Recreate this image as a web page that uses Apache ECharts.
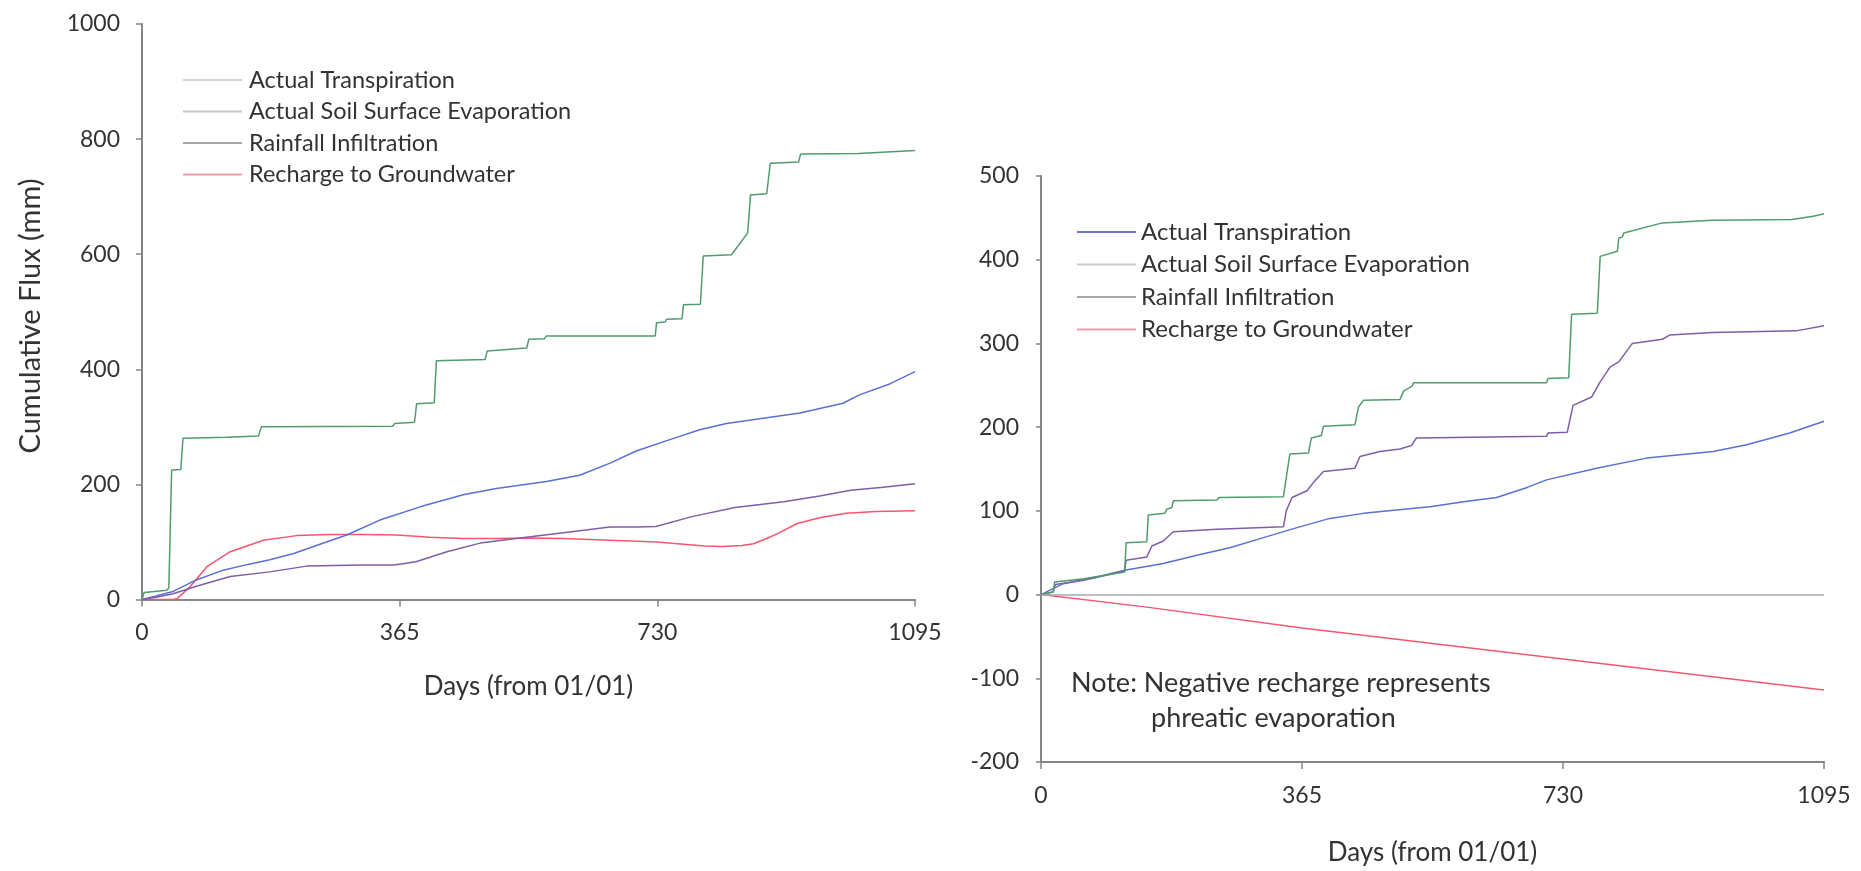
<!DOCTYPE html>
<html>
<head>
<meta charset="utf-8">
<script src="https://cdn.jsdelivr.net/npm/echarts@6/dist/echarts.min.js"></script>
<style>
html,body{margin:0;padding:0;background:#fff;}
#chart{width:1861px;height:871px;}
</style>
</head>
<body>
<div id="chart"></div>
<script>
// ---------- DATA ----------
const seriesNames = ['Actual Transpiration', 'Actual Soil Surface Evaporation', 'Rainfall Infiltration', 'Recharge to Groundwater'];
const xTicks = [0, 365, 730, 1095];
const leftYTicks = [0, 200, 400, 600, 800, 1000];
const rightYTicks = [-200, -100, 0, 100, 200, 300, 400, 500];

// Left panel: [day, cumulative flux mm]
const leftTranspiration = [[0,0],[20,6],[44,14],[77,34],[115,51],[150,61],[181,69],[215,80],[243,92],[290,112],[337,138],[394,161],[455,182],[502,193],[573,205],[620,216],[663,237],[700,258],[753,280],[790,295],[828,306],[880,315],[932,324],[993,341],[1017,356],[1060,375],[1095,396]];
const leftEvaporation = [[0,0],[20,4],[44,10],[77,23],[125,40],[181,48],[233,58],[314,60],[356,60],[370,62],[389,66],[432,83],[479,98],[550,109],[597,116],[663,126],[700,126],[728,127],[779,144],[840,160],[909,170],[960,180],[1004,190],[1050,195],[1095,201]];
const leftInfiltration = [[0,0],[3,12],[35,16],[38,20],[42,225],[55,226],[58,280],[120,282],[165,284],[169,300],[355,301],[358,306],[386,308],[389,340],[414,342],[417,415],[486,417],[489,432],[545,437],[548,452],[570,453],[573,458],[727,458],[729,481],[741,482],[743,487],[765,488],[767,512],[791,513],[795,597],[835,599],[858,637],[862,703],[885,705],[890,758],[930,760],[933,774],[1015,775],[1095,780]];
const leftRecharge = [[0,0],[44,0],[50,2],[68,22],[92,57],[125,83],[172,103],[219,111],[266,113],[314,113],[361,112],[408,108],[455,106],[502,106],[550,107],[597,106],[663,103],[729,100],[797,93],[823,92],[850,94],[866,97],[885,106],[901,115],[928,132],[960,142],[997,150],[1040,153],[1095,154]];

// Right panel: [day, cumulative flux mm]
const rightTranspiration = [[0,0],[31,13],[78,21],[117,29],[171,37],[218,47],[264,56],[311,68],[358,80],[404,91],[451,97],[497,101],[544,105],[591,111],[637,116],[680,128],[707,137],[777,151],[847,163],[940,171],[987,179],[1047,193],[1095,207]];
const rightEvaporation = [[0,0],[17,3],[20,12],[60,17],[117,28],[119,41],[148,45],[155,58],[171,64],[185,75],[246,78],[339,81],[343,100],[351,116],[372,124],[381,134],[395,147],[439,151],[446,165],[474,171],[502,174],[518,178],[525,187],[707,189],[709,193],[736,194],[744,226],[770,236],[782,254],[796,272],[808,278],[827,300],[869,305],[879,310],[939,313],[1056,315],[1095,321]];
const rightInfiltration = [[0,0],[17,3],[19,15],[60,19],[117,27],[119,62],[148,63],[150,95],[173,97],[176,102],[183,104],[185,112],[246,113],[249,116],[339,117],[348,168],[374,169],[378,187],[392,190],[395,201],[439,203],[444,224],[451,232],[502,233],[507,243],[519,249],[521,253],[707,253],[709,258],[738,259],[742,335],[778,336],[782,404],[806,410],[808,426],[813,427],[815,432],[869,444],[939,447],[1050,448],[1080,452],[1095,455]];
const rightRecharge = [[0,0],[148,-15],[365,-40],[730,-77],[1095,-114]];

const yTitle = 'Cumulative Flux (mm)';
const xTitle = 'Days (from 01/01)';
const noteLines = ['Note: Negative recharge represents', 'phreatic evaporation'];

// ---------- STYLE ----------
const FONT = 'Lato, "Open Sans", sans-serif';
const TXT = '#333333';
const AXIS = '#858585';
const colors = ['#5b6fd6', '#7d5fa8', '#4f9c6c', '#f5566e'];

const leftData = [leftTranspiration, leftEvaporation, leftInfiltration, leftRecharge];
const rightData = [rightTranspiration, rightEvaporation, rightInfiltration, rightRecharge];

function mkSeries(dataArr, idx) {
  return dataArr.map((d, i) => ({
    type: 'line', name: seriesNames[i], data: d,
    xAxisIndex: idx, yAxisIndex: idx,
    symbol: 'none', smooth: false,
    lineStyle: { color: colors[i], width: 1.5 },
    itemStyle: { color: colors[i] },
    z: 3 + (i === 3 ? 0 : 1)
  }));
}

const series = mkSeries(leftData, 0).concat(mkSeries(rightData, 1));
series[7].markLine = {
  silent: true, symbol: 'none', label: { show: false },
  lineStyle: { color: '#a8a8a8', width: 1.5, type: 'solid' },
  data: [{ yAxis: 0 }]
};

const leftLegendColors = ['#d4d4d4', '#c8c8c8', '#a4a4a4', '#f49aab'];
const rightLegendColors = ['#7475d0', '#cacaca', '#a8a8a8', '#f59eae'];

function mkLegend(left, top, cols, gap, fs, padL) {
  return {
    orient: 'vertical', left: left, top: top,
    itemWidth: 59, itemHeight: 2, itemGap: gap,
    selectedMode: false, icon: 'rect',
    textStyle: { fontFamily: FONT, fontSize: fs, color: TXT, lineHeight: 22, padding: [0, 0, 0, padL] },
    data: seriesNames.map((n, i) => ({
      name: n,
      itemStyle: { color: cols[i] }
    }))
  };
}

function xAxis(idx, gap) {
  return {
    type: 'value', gridIndex: idx, min: 0, max: 1095, interval: 365,
    name: xTitle, nameLocation: 'middle', nameGap: gap,
    nameTextStyle: { fontFamily: FONT, fontSize: 26, color: TXT },
    axisLine: { onZero: false, lineStyle: { color: AXIS, width: 2 } },
    axisTick: { show: true, length: 7, lineStyle: { color: AXIS, width: 1.5 } },
    axisLabel: { fontFamily: FONT, fontSize: 23, color: TXT, margin: 22, formatter: v => String(v) },
    splitLine: { show: false }
  };
}

const option = {
  animation: false,
  backgroundColor: '#ffffff',
  grid: [
    { left: 142, top: 24, width: 773, height: 575.5 },
    { left: 1041, top: 176, width: 783, height: 590 }
  ],
  legend: [
    mkLegend(178, 63, leftLegendColors, 7.5, 23.5, 2),
    mkLegend(1072, 215, rightLegendColors, 8.5, 24, 0)
  ],
  xAxis: [xAxis(0, 74), xAxis(1, 78)],
  yAxis: [
    {
      type: 'value', gridIndex: 0, min: 0, max: 1000, interval: 200,
      axisLine: { show: true, lineStyle: { color: AXIS, width: 2 } },
      axisTick: { show: true, length: 6, lineStyle: { color: AXIS, width: 1.5 } },
      axisLabel: { fontFamily: FONT, fontSize: 23, color: TXT, margin: 22, formatter: v => String(v) },
      splitLine: { show: false }
    },
    {
      type: 'value', gridIndex: 1, min: -200, max: 500, interval: 100,
      axisLine: { show: true, onZero: false, lineStyle: { color: AXIS, width: 2 } },
      axisTick: { show: true, length: 5, lineStyle: { color: AXIS, width: 1.5 } },
      axisLabel: { fontFamily: FONT, fontSize: 23, color: TXT, margin: 22, formatter: v => String(v) },
      splitLine: { show: false }
    }
  ],
  graphic: [
    { type: 'text', x: 31, y: 316, rotation: Math.PI / 2,
      style: { text: yTitle, font: '29px ' + FONT, fill: TXT, align: 'center', verticalAlign: 'middle' } },
    { type: 'text', x: 1071, y: 683,
      style: { text: noteLines[0], font: '27px ' + FONT, fill: TXT, verticalAlign: 'middle' } },
    { type: 'text', x: 1151, y: 718,
      style: { text: noteLines[1], font: '27px ' + FONT, fill: TXT, verticalAlign: 'middle' } }
  ],
  series: series
};

const chart = echarts.init(document.getElementById('chart'), null, { renderer: 'canvas' });
chart.setOption(option);
</script>
</body>
</html>
